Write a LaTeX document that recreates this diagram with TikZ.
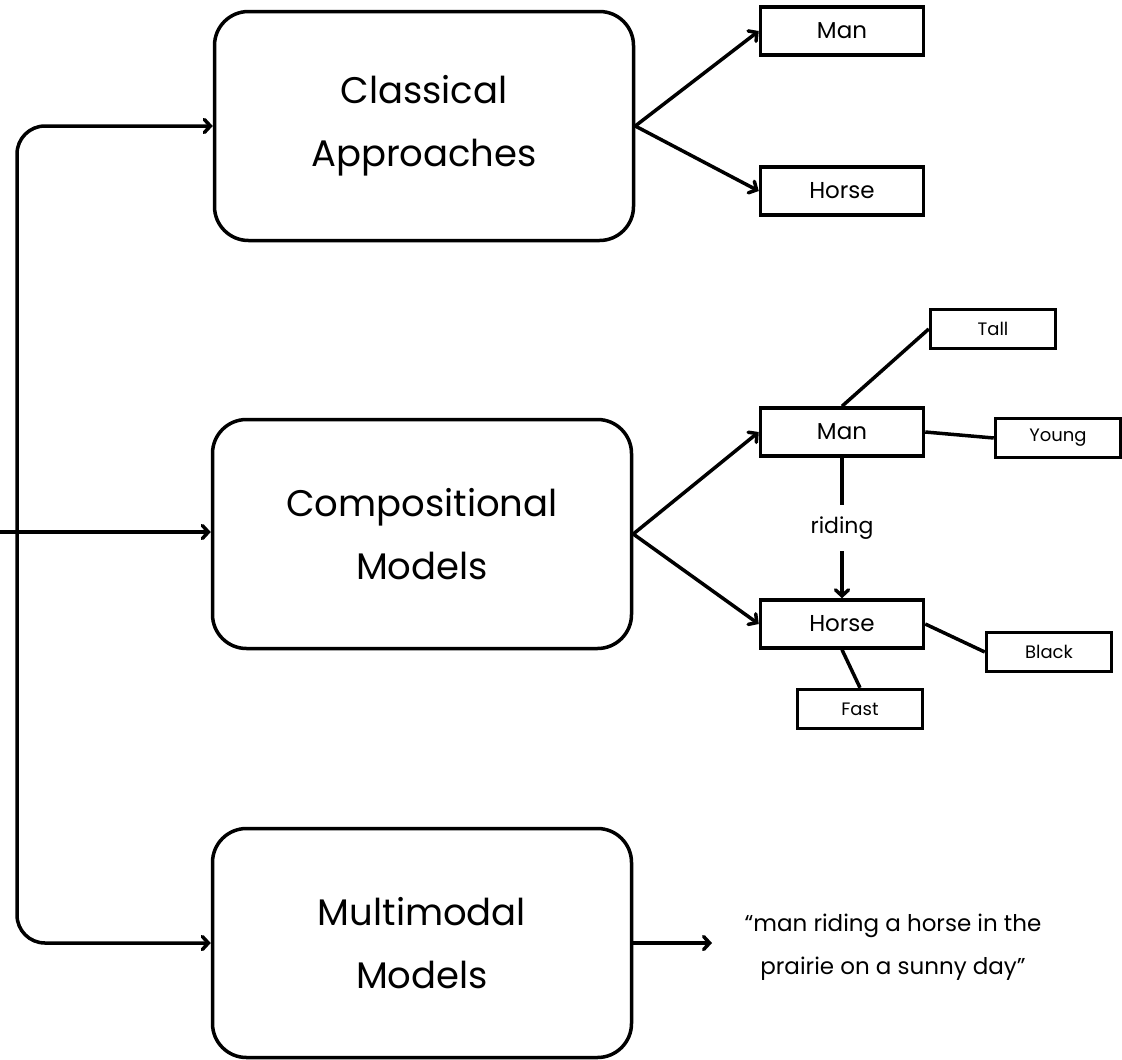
\documentclass[tikz,border=0pt]{standalone}
\usepackage{fontspec}
\setmainfont{Poppins}
\usetikzlibrary{arrows.meta}

\begin{document}
\begin{tikzpicture}[x=1pt, y=-1pt, line width=3.5pt,
    bigbox/.style={draw, rounded corners=34pt, minimum width=419pt, minimum height=229pt, align=center, font=\fontsize{37}{63}\selectfont},
    wordbox/.style={draw, minimum width=163pt, minimum height=48pt, font=\fontsize{23}{27}\selectfont},
    attrbox/.style={draw, minimum width=125pt, minimum height=39pt, font=\fontsize{18}{21}\selectfont},
    arr/.style={-{Straight Barb[length=6pt,width=13pt,line cap=round]}},
    arrs/.style={{Straight Barb[length=6pt,width=13pt,line cap=round]}-{Straight Barb[length=6pt,width=13pt,line cap=round]}},
  ]
    \useasboundingbox (0,0) rectangle (1122,1060);

    % Cajas principales
    \node[bigbox] (classical) at (424,126) {Classical\\Approaches};
    \node[bigbox] (comp) at (422,534) {Compositional\\Models};
    \node[bigbox] (multi) at (422,943) {Multimodal\\Models};

    % Tronco de la izquierda
    \coordinate (trunkbot) at (17,943);
    \coordinate (inlet) at (0,532);
    \draw[arrs, rounded corners=28pt] (classical.west) -| (trunkbot) -- (multi.west);
    \draw[arr] (inlet) -- (comp.west |- inlet);

    % Enfoque clasico
    \node[wordbox] (man1) at (842,31) {Man};
    \node[wordbox] (horse1) at (842,191) {Horse};
    \draw[arr] (classical.east) -- (man1.west);
    \draw[arr] (classical.east) -- (horse1.west);

    % Modelo composicional
    \node[wordbox] (man2) at (842,432) {Man};
    \node[wordbox] (horse2) at (842,624) {Horse};
    \node[attrbox] (tall) at (993,329) {Tall};
    \node[attrbox] (young) at (1058,438) {Young};
    \node[attrbox] (black) at (1049,652) {Black};
    \node[attrbox] (fast) at (860,709) {Fast};
    \draw[arr] (comp.east) -- (man2.west);
    \draw[arr] (comp.east) -- (horse2.west);
    \draw[arr] (man2) -- node[fill=white, inner sep=12pt, font=\fontsize{22}{26}\selectfont] {riding} (horse2);
    \draw (man2.north) -- (tall.west);
    \draw (man2.east) -- (young.west);
    \draw (horse2.east) -- (black.west);
    \draw (horse2.south) -- (fast.north);

    % Modelo multimodal
    \coordinate (capin) at (712,943);
    \draw[arr] (multi.east) -- (capin);
    \node[align=center, font=\fontsize{23}{43}\selectfont] (caption) at (893,947)
        {“man riding a horse in the\\prairie on a sunny day”};
\end{tikzpicture}
\end{document}
